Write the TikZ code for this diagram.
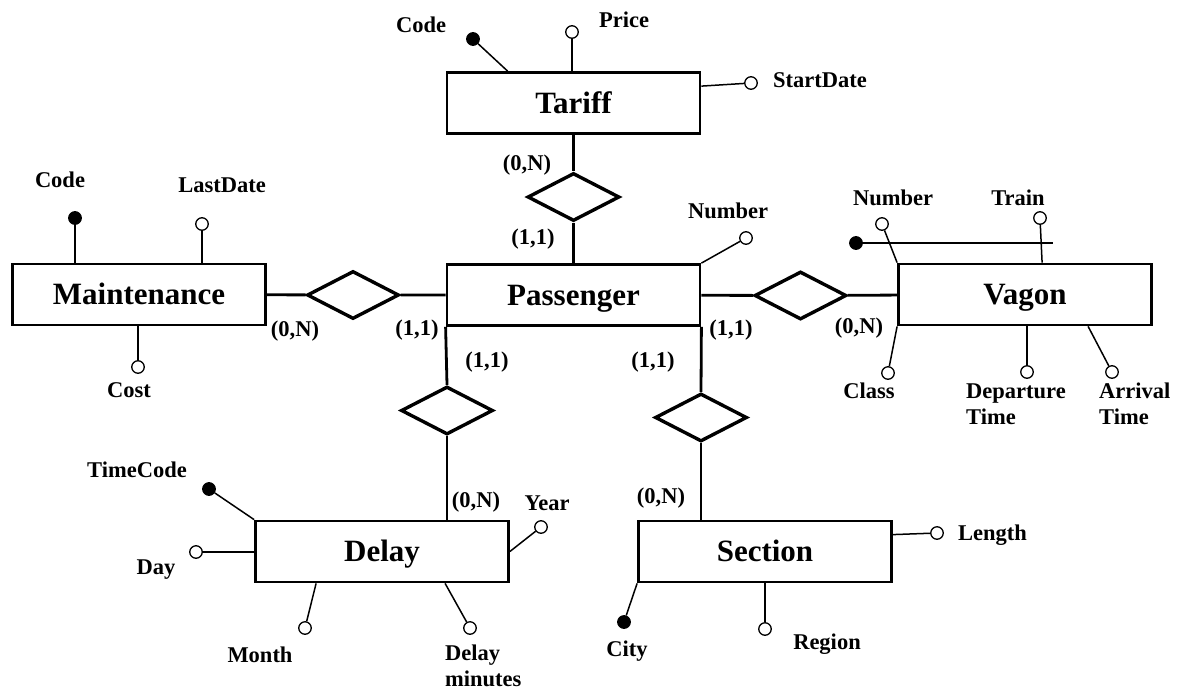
\documentclass[tikz,border=0pt]{standalone}
\usepackage{fontspec}
\setmainfont{Liberation Serif}
\usetikzlibrary{shapes.geometric,calc}

\begin{document}
\begin{tikzpicture}[x=1pt,y=-1pt,
	entity/.style={draw, line width=2.8pt, minimum width=253pt, minimum height=61pt, inner sep=0pt, text height=20.3pt, text depth=0pt, font=\fontsize{31}{36}\selectfont\bfseries},
	rel/.style={draw, diamond, line width=3.4pt, minimum width=92pt, minimum height=48pt, inner sep=0pt},
	attr/.style={draw, circle, line width=1.3pt, fill=white, minimum size=12.5pt, inner sep=0pt},
	keyattr/.style={attr, fill=black},
	lbltext/.style={font=\fontsize{22.5}{26}\selectfont\bfseries, inner sep=0pt},
	lbl/.style={lbltext, text height=14.7pt, text depth=0pt},
	relline/.style={line width=2.8pt},
	attrline/.style={line width=1.5pt}]

	\useasboundingbox (0,0) rectangle (1180,691);

	% entities
	\node[entity] (tariff) at (573.5,103) {Tariff};
	\node[entity] (passenger) at (573.5,295) {Passenger};
	\node[entity] (maint) at (139,294.5) {Maintenance};
	\node[entity] (vagon) at (1025,294.5) {Vagon};
	\node[entity] (delay) at (382,551.5) {Delay};
	\node[entity] (section) at (765,551.5) {Section};

	% relationships
	\node[rel] (tarrel) at (573.5,197) {};
	\node[rel] (maintrel) at (353,295) {};
	\node[rel] (vagrel) at (800.5,295.5) {};
	\node[rel] (delayrel) at (447,410.5) {};
	\node[rel] (sectrel) at (701,417.5) {};

	\draw[relline] (tariff) -- (tarrel) -- (passenger);
	\draw[relline] (maint) -- (maintrel) -- (passenger);
	\draw[relline] (passenger) -- (vagrel) -- (vagon);
	\draw[relline] (passenger.south west) -- (delayrel.north);
	\draw[relline] (delayrel.south) -- (delayrel |- delay.north);
	\draw[relline] (passenger.south east) -- (sectrel.north);
	\draw[relline] (sectrel.south) -- (sectrel |- section.north);

	% cardinalities
	\node[lbl] (c1) at (527,163) {(0,N)};
	\node[lbl] (c2) at (533,237) {(1,1)};
	\node[lbl] (c3) at (295,329) {(0,N)};
	\node[lbl] (c4) at (417,328) {(1,1)};
	\node[lbl] (c5) at (487,360) {(1,1)};
	\node[lbl] (c6) at (653,360) {(1,1)};
	\node[lbl] (c7) at (731,328) {(1,1)};
	\node[lbl] (c8) at (859,326) {(0,N)};
	\node[lbl] (c9) at (476,500) {(0,N)};
	\node[lbl] (c10) at (661,496) {(0,N)};

	% Tariff attributes
	\node[keyattr] (tcode) at (473,39) {};
	\node[attr] (tprice) at (572,32) {};
	\node[attr] (tstart) at (751,83) {};
	\draw[attrline] (tcode) -- ($(tariff.north west)+(62,0)$);
	\draw[attrline] (tprice) -- (tprice |- tariff.north);
	\draw[attrline] (tstart) -- ($(tariff.north east)+(0,15)$);
	\node[lbl] (tcodel) at (421,25) {Code};
	\node[lbl] (tpricel) at (624,20) {Price};
	\node[lbl, anchor=west] (tstartl) at (773,80) {StartDate};

	% Maintenance attributes
	\node[keyattr] (mcode) at (75,218) {};
	\node[attr] (mlast) at (202,224) {};
	\node[attr] (mcost) at (138,367) {};
	\draw[attrline] (mcode) -- (mcode |- maint.north);
	\draw[attrline] (mlast) -- (mlast |- maint.north);
	\draw[attrline] (mcost) -- (mcost |- maint.south);
	\node[lbl] (mcodel) at (60,180) {Code};
	\node[lbl] (mlastl) at (222,185) {LastDate};
	\node[lbl] (mcostl) at (129,390) {Cost};

	% Passenger attributes
	\node[attr] (pnum) at (746,238) {};
	\draw[attrline] (pnum) -- (passenger.north east);
	\node[lbl] (pnuml) at (728,211) {Number};

	% Vagon attributes
	\node[attr] (vnum) at (882,224) {};
	\node[keyattr] (vkey) at (856,243) {};
	\coordinate (vkeyend) at (1053,243);
	\node[attr] (vtrain) at (1040,218) {};
	\node[attr] (vclass) at (888,373) {};
	\node[attr] (vdep) at (1027,372) {};
	\node[attr] (varr) at (1112,372) {};
	\draw[attrline] (vnum) -- (vagon.north west);
	\draw[attrline] (vkey) -- (vkeyend);
	\draw[attrline] (vtrain) -- ($(vagon.north west)+(145,0)$);
	\draw[attrline] (vclass) -- (vagon.south west);
	\draw[attrline] (vdep) -- (vdep |- vagon.south);
	\draw[attrline] (varr) -- ($(vagon.south west)+(191,0)$);
	\node[lbl] (vnuml) at (893,198) {Number};
	\node[lbl] (vtrainl) at (1018,198) {Train};
	\node[lbl] (vclassl) at (869,391) {Class};
	\node[lbltext, anchor=west, align=left] (vdepl) at (966,404) {Departure\\Time};
	\node[lbltext, anchor=west, align=left] (varrl) at (1099,404) {Arrival\\Time};

	% Delay attributes
	\node[keyattr] (dcode) at (209,489) {};
	\node[attr] (dday) at (196,552) {};
	\node[attr] (dmonth) at (305,628) {};
	\node[attr] (dmin) at (470,628) {};
	\node[attr] (dyear) at (541,527) {};
	\draw[attrline] (dcode) -- (delay.north west);
	\draw[attrline] (dday) -- (dday -| delay.west);
	\draw[attrline] (dmonth) -- ($(delay.south west)+(62,0)$);
	\draw[attrline] (dmin) -- ($(delay.south west)+(191,0)$);
	\draw[attrline] (dyear) -- (delay.east);
	\node[lbl] (dcodel) at (137,470) {TimeCode};
	\node[lbl] (ddayl) at (156,567) {Day};
	\node[lbl] (dmonthl) at (260,655) {Month};
	\node[lbltext, anchor=west, align=left] (dminl) at (445,666) {Delay\\minutes};
	\node[lbl] (dyearl) at (547,503) {Year};

	% Section attributes
	\node[attr] (slen) at (937,533) {};
	\node[keyattr] (scity) at (624,622) {};
	\node[attr] (sreg) at (765,629) {};
	\draw[attrline] (slen) -- ($(section.north east)+(0,15)$);
	\draw[attrline] (scity) -- (section.south west);
	\draw[attrline] (sreg) -- (sreg |- section.south);
	\node[lbl, anchor=west] (slenl) at (958,533) {Length};
	\node[lbl] (scityl) at (627,649) {City};
	\node[lbl] (sregl) at (827,642) {Region};

\end{tikzpicture}
\end{document}
